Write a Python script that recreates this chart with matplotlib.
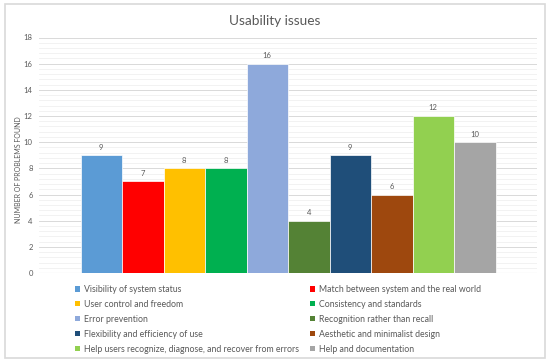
import matplotlib
matplotlib.use('Agg')
import matplotlib.pyplot as plt
from matplotlib.patches import Rectangle, Patch
from matplotlib.ticker import MultipleLocator

plt.rcParams['font.family'] = ['Lato', 'DejaVu Sans']

issues = ['Visibility of system status',
          'Match between system and the real world',
          'User control and freedom',
          'Consistency and standards',
          'Error prevention',
          'Recognition rather than recall',
          'Flexibility and efficiency of use',
          'Aesthetic and minimalist design',
          'Help users recognize, diagnose, and recover from errors',
          'Help and documentation']
problems = [9, 7, 8, 8, 16, 4, 9, 6, 12, 10]
colors = ['#5B9BD5', '#FF0000', '#FFC000', '#00B050', '#8EA9DB',
          '#548235', '#1F4E79', '#9E480E', '#92D050', '#A5A5A5']
yticks = list(range(0, 19, 2))

txt = '#595959'

fig = plt.figure(figsize=(5.5, 3.64), dpi=100)
# outer chart border
fig.patches.append(Rectangle((5/550, 1 - 358/364), 540/550, 354/364,
                             transform=fig.transFigure, fill=False,
                             edgecolor='#D9D9D9', linewidth=1.2))

ax = fig.add_axes([39/550, 1 - 273/364, 498/550, 235.5/364])
x = list(range(len(problems)))
bars = ax.bar(x, problems, width=1.0, color=colors, edgecolor='white',
              linewidth=0.5, zorder=3)
for xi, v in zip(x, problems):
    ax.text(xi, v + 0.35, str(v), ha='center', va='bottom', fontsize=5.5, color=txt)

ax.set_xlim(-1.5, 10.5)
ax.set_ylim(0, 18)
ax.set_yticks(yticks)
ax.yaxis.set_minor_locator(MultipleLocator(0.4))
ax.grid(axis='y', which='major', color='#D9D9D9', linewidth=0.7, zorder=0)
ax.grid(axis='y', which='minor', color='#F0F0F0', linewidth=0.6, zorder=0)
ax.set_xticks([])
ax.tick_params(axis='y', which='both', length=0, labelsize=5.5, labelcolor=txt, pad=4.5)
for s in ax.spines.values():
    s.set_visible(False)
ax.axhline(0, color='#D9D9D9', linewidth=0.8, zorder=2)

fig.text(19/550, 1 - 170/364, 'NUMBER OF PROBLEMS FOUND', rotation=90,
         ha='center', va='center', fontsize=5, color=txt)

fig.text(0.5, 1 - 21/364, 'Usability issues', ha='center', va='center',
         fontsize=9.8, color=txt)

# legend filled row by row (two columns)
handles = [Patch(facecolor=c) for c in colors]
order = list(range(0, 10, 2)) + list(range(1, 10, 2))
leg = fig.legend([handles[i] for i in order], [issues[i] for i in order],
                 ncol=2, loc='upper left', bbox_to_anchor=(75/550, 1 - 285/364),
                 frameon=False, fontsize=6.3, handlelength=0.55, handleheight=0.55,
                 handletextpad=0.5, columnspacing=1.25, labelspacing=0.68,
                 borderaxespad=0, borderpad=0)
for t in leg.get_texts():
    t.set_color(txt)

fig.savefig('out.png', dpi=100)
